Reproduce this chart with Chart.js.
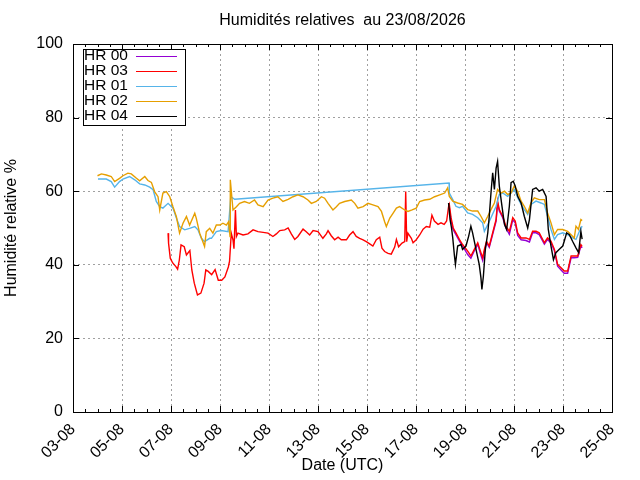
<!DOCTYPE html>
<html>
<head>
<meta charset="utf-8">
<script src="https://cdn.jsdelivr.net/npm/chart.js@4.4.1/dist/chart.umd.min.js"></script>
<style>
  html, body { margin: 0; padding: 0; background: #fff; }
</style>
</head>
<body>
<canvas id="hrChart" width="640" height="480"></canvas>
<script>
// x values are days since 03-08 00:00 UTC
var xTickLabels = ["03-08", "05-08", "07-08", "09-08", "11-08", "13-08",
                   "15-08", "17-08", "19-08", "21-08", "23-08", "25-08"];

// HR 00 (only recorded from 18-08)
var hr00Days = [15.36, 15.43, 15.52, 15.63, 15.77, 15.9, 16.01, 16.11, 16.24, 16.38, 16.52, 16.65,
  16.72, 16.79, 16.88, 16.99, 17.13, 17.27, 17.33, 17.4, 17.54, 17.67, 17.81, 17.95, 18.05, 18.15,
  18.29, 18.49, 18.63, 18.76, 18.9, 19.03, 19.24, 19.37, 19.51, 19.65, 19.78, 19.92, 20.05, 20.19,
  20.33, 20.46, 20.6, 20.73, 20.78];
var hr00Vals = [55.5, 52.0, 49.5, 48.2, 46.5, 45.0, 43.9, 42.8, 41.8, 43.8, 45.6, 42.6,
  41.2, 43.6, 46.0, 44.7, 48.3, 51.9, 56.8, 54.6, 52.8, 50.0, 48.3, 52.2, 51.4, 48.0,
  46.8, 46.6, 46.2, 48.7, 48.7, 48.2, 45.6, 46.9, 45.9, 43.8, 39.6, 38.6, 37.7, 37.7,
  41.9, 41.9, 42.0, 45.1, 44.6];

// HR 03
var hr03Days = [3.88, 3.9, 3.97, 4.07, 4.2, 4.27, 4.34, 4.41, 4.54, 4.63, 4.77, 4.85, 4.95, 5.08,
  5.22, 5.35, 5.42, 5.52, 5.66, 5.8, 5.93, 6.07, 6.2, 6.34, 6.39, 6.46, 6.53, 6.57, 6.63, 6.67,
  6.73, 6.94, 7.14, 7.35, 7.55, 7.76, 7.96, 8.16, 8.3, 8.44, 8.64, 8.78, 8.91, 9.05, 9.18, 9.39,
  9.52, 9.66, 9.8, 10.0, 10.2, 10.34, 10.41, 10.54, 10.68, 10.82, 10.95, 11.16, 11.29, 11.43,
  11.56, 11.7, 11.84, 11.97, 12.11, 12.24, 12.38, 12.52, 12.61, 12.72, 12.86, 12.99, 13.13,
  13.2, 13.29, 13.43, 13.54, 13.58, 13.62, 13.67, 13.81, 13.88, 14.01, 14.15, 14.29, 14.42,
  14.56, 14.65, 14.75, 14.9, 15.02, 15.15, 15.25, 15.33, 15.36, 15.43, 15.52, 15.63, 15.77,
  15.9, 16.01, 16.11, 16.24, 16.38, 16.52, 16.65, 16.72, 16.79, 16.88, 16.99, 17.13, 17.27,
  17.33, 17.4, 17.54, 17.67, 17.81, 17.95, 18.05, 18.15, 18.29, 18.49, 18.63, 18.76, 18.9,
  19.03, 19.24, 19.37, 19.51, 19.65, 19.78, 19.92, 20.05, 20.19, 20.33, 20.46, 20.6, 20.73, 20.78];
var hr03Vals = [48.6, 45.9, 41.8, 40.5, 39.5, 38.8, 41.3, 45.4, 44.9, 42.7, 43.9, 38.6, 35.0, 31.8,
  32.3, 35.0, 38.6, 38.2, 37.3, 38.7, 35.8, 35.8, 36.7, 39.4, 41.0, 48.6, 46.8, 44.4, 54.9, 47.7,
  48.6, 48.1, 48.4, 49.5, 49.0, 48.8, 48.6, 47.7, 48.4, 49.3, 49.5, 50.0, 48.4, 46.9, 47.7, 49.7,
  49.0, 48.1, 49.3, 49.0, 47.2, 48.4, 49.3, 47.9, 46.8, 47.5, 46.8, 46.8, 48.1, 49.0,
  47.7, 47.2, 46.8, 46.3, 45.7, 45.1, 46.8, 47.5, 44.5, 43.6, 43.1, 42.9, 44.8,
  46.9, 44.9, 45.9, 46.3, 59.9, 46.3, 48.6, 47.2, 46.0, 46.8, 48.1, 49.7, 50.4,
  50.2, 53.5, 51.9, 51.0, 51.4, 51.0, 51.9, 55.8, 56.4, 52.8, 50.0, 48.7, 46.9,
  45.5, 44.6, 43.7, 42.4, 44.2, 46.0, 43.3, 41.9, 44.2, 46.4, 45.1, 48.7, 52.3,
  57.3, 55.0, 53.2, 50.5, 49.1, 52.8, 51.9, 48.7, 47.3, 47.3, 46.9, 49.1, 49.1,
  48.7, 46.0, 47.3, 46.4, 44.2, 40.1, 39.2, 38.3, 38.3, 42.4, 42.4, 42.4, 45.5, 45.0];

// HR 01 (no data between 09-08 and 18-08)
var hr01Days = [1.02, 1.36, 1.56, 1.7, 1.9, 2.04, 2.31, 2.52, 2.72, 2.93, 3.13, 3.27, 3.4, 3.54,
  3.67, 3.88, 4.08, 4.22, 4.35, 4.56, 4.76, 4.97, 5.1, 5.24, 5.37, 5.58, 5.65, 5.85, 6.05, 6.33,
  6.44, 6.6, 15.35, 15.36, 15.5, 15.63, 15.77, 15.9, 16.11, 16.31, 16.52, 16.72, 16.79, 16.93,
  17.06, 17.27, 17.4, 17.54, 17.74, 17.88, 18.01, 18.15, 18.29, 18.42, 18.56, 18.69, 18.9, 19.1,
  19.24, 19.37, 19.51, 19.65, 19.78, 19.99, 20.19, 20.39, 20.53, 20.67, 20.78];
var hr01Vals = [63.3, 63.3, 62.6, 61.1, 62.6, 63.3, 64.0, 63.1, 62.0, 61.7, 61.1, 60.4, 57.2, 55.8,
  55.4, 56.7, 55.4, 52.7, 50.4, 49.5, 49.9, 50.4, 49.5, 47.2, 46.3, 47.2, 47.2, 49.0, 49.3, 49.0,
  58.5, 57.8, 62.2, 59.5, 57.7, 55.9, 55.5, 55.9, 54.1, 53.7, 52.8, 51.4, 49.1, 50.9,
  52.8, 55.9, 59.1, 59.5, 58.6, 59.5, 60.5, 58.2, 56.4, 55.0, 53.7, 56.4, 57.3, 56.8,
  56.4, 53.2, 49.6, 46.9, 48.2, 48.7, 48.2, 47.3, 46.9, 49.1, 50.5];

// HR 02
var hr02Days = [1.0, 1.16, 1.36, 1.56, 1.7, 1.9, 2.04, 2.24, 2.38, 2.59, 2.72, 2.93, 3.06, 3.2,
  3.33, 3.47, 3.54, 3.67, 3.81, 3.95, 4.08, 4.22, 4.35, 4.49, 4.63, 4.76, 4.97, 5.03, 5.17, 5.37,
  5.44, 5.58, 5.71, 5.85, 5.99, 6.12, 6.26, 6.35, 6.41, 6.42, 6.53, 6.67, 6.8, 7.0, 7.2, 7.41,
  7.55, 7.76, 7.96, 8.16, 8.36, 8.57, 8.78, 8.98, 9.18, 9.39, 9.59, 9.73, 9.93, 10.14, 10.27,
  10.41, 10.61, 10.75, 10.88, 11.09, 11.36, 11.5, 11.63, 11.84, 12.04, 12.24, 12.45, 12.59,
  12.72, 12.79, 12.93, 13.06, 13.2, 13.33, 13.54, 13.67, 13.84, 14.01, 14.15, 14.35, 14.56,
  14.76, 14.97, 15.17, 15.29, 15.36, 15.5, 15.7, 15.9, 16.11, 16.31, 16.52, 16.65, 16.79, 16.93,
  17.06, 17.2, 17.33, 17.47, 17.61, 17.74, 17.88, 18.01, 18.15, 18.29, 18.42, 18.56, 18.69,
  18.83, 19.03, 19.24, 19.37, 19.51, 19.65, 19.78, 19.99, 20.19, 20.33, 20.46, 20.53, 20.63,
  20.73, 20.78];
var hr02Vals = [64.2, 64.7, 64.4, 64.0, 62.6, 63.5, 64.2, 64.9, 64.7, 63.5, 62.8, 64.0, 62.9, 62.4,
  59.9, 58.5, 54.9, 59.5, 59.9, 58.5, 55.8, 53.1, 48.6, 51.3, 53.1, 50.8, 54.0, 52.7, 48.6, 45.0,
  49.0, 49.9, 48.6, 50.8, 50.8, 51.3, 50.8, 51.7, 47.7, 63.1, 54.9, 55.8, 56.7, 57.2, 56.7, 57.6,
  56.3, 55.8, 57.6, 58.1, 58.5, 57.2, 57.8, 58.5, 59.0, 58.5, 57.6, 56.7, 57.2, 58.5, 58.1,
  56.7, 54.9, 55.8, 56.7, 57.2, 57.6, 56.7, 55.4, 55.8, 56.7, 56.3, 55.8, 54.5,
  51.7, 50.4, 52.7, 54.0, 55.4, 55.8, 54.9, 54.5, 54.9, 55.4, 57.2, 57.6, 57.8,
  58.5, 59.0, 59.5, 60.9, 58.6, 57.3, 56.8, 56.4, 55.0, 54.6, 54.6, 53.2, 51.4, 53.2,
  55.0, 56.8, 60.5, 59.5, 60.0, 59.1, 59.5, 61.4, 60.0, 57.3, 55.9, 54.1, 56.8,
  58.2, 57.7, 57.7, 54.1, 51.4, 48.2, 49.6, 49.6, 49.1, 48.2, 47.3, 50.5, 49.6,
  52.3, 52.0];

// HR 04 (only recorded from 18-08)
var hr04Days = [15.33, 15.39, 15.45, 15.5, 15.57, 15.61, 15.7, 15.84, 15.9, 16.04, 16.15, 16.24,
  16.31, 16.45, 16.58, 16.65, 16.69, 16.75, 16.83, 16.93, 16.99, 17.06, 17.13, 17.2, 17.27,
  17.33, 17.4, 17.51, 17.61, 17.7, 17.81, 17.88, 17.97, 18.05, 18.15, 18.29, 18.42, 18.56,
  18.63, 18.76, 18.9, 19.03, 19.17, 19.31, 19.4, 19.51, 19.61, 19.71, 19.85, 19.99, 20.05,
  20.15, 20.26, 20.39, 20.53, 20.64, 20.73, 20.78];
var hr04Vals = [56.8, 52.3, 50.0, 47.3, 42.4, 40.1, 45.1, 45.5, 44.2, 45.1, 47.8, 50.5,
  48.7, 44.2, 40.1, 36.5, 33.3, 36.9, 44.2, 48.7, 53.2, 59.5, 65.0, 60.5, 66.3,
  68.1, 61.4, 55.9, 51.0, 49.6, 55.9, 62.3, 62.7, 61.4, 58.6, 56.8, 53.2, 50.0,
  52.3, 60.5, 60.9, 60.0, 60.5, 58.6, 49.6, 45.1, 41.4, 43.3, 44.2, 45.1, 46.4,
  48.7, 48.2, 46.4, 44.6, 43.3, 49.1, 47.0];

var FONT = '"Liberation Sans", Arial, sans-serif';

function toPoints(days, vals) {
  return days.map(function (d, i) { return { x: d, y: vals[i] }; });
}

function makeSeries(label, days, vals, color, order) {
  return {
    label: label,
    data: toPoints(days, vals),
    borderColor: color,
    backgroundColor: color,
    borderWidth: 1.4,
    pointRadius: 0,
    tension: 0,
    fill: false,
    order: order // lower order is drawn on top (HR 04 last, as in the original)
  };
}

// Title centred over the plot area
var plotTitle = {
  id: "plotTitle",
  afterDraw: function (chart) {
    var ctx = chart.ctx, a = chart.chartArea;
    ctx.save();
    ctx.font = "16px " + FONT;
    ctx.fillStyle = "#000";
    ctx.textAlign = "center";
    ctx.textBaseline = "middle";
    ctx.fillText("Humidités relatives  au 23/08/2026", (a.left + a.right) / 2, 21);
    ctx.restore();
  }
};

// Box border with inward tick marks on all four sides
var frameTicks = {
  id: "frameTicks",
  afterDatasetsDraw: function (chart) {
    var ctx = chart.ctx, a = chart.chartArea;
    var xs = chart.scales.x, ys = chart.scales.y;
    ctx.save();
    ctx.strokeStyle = "#000";
    ctx.lineWidth = 1;
    ctx.beginPath();
    xs.ticks.forEach(function (t) {
      var px = Math.round(xs.getPixelForValue(t.value)) + 0.5;
      var len = t.value % 2 === 0 ? 6 : 3;
      ctx.moveTo(px, a.bottom); ctx.lineTo(px, a.bottom - len);
      ctx.moveTo(px, a.top); ctx.lineTo(px, a.top + len);
    });
    ys.ticks.forEach(function (t) {
      var py = Math.round(ys.getPixelForValue(t.value)) + 0.5;
      ctx.moveTo(a.left, py); ctx.lineTo(a.left + 6, py);
      ctx.moveTo(a.right, py); ctx.lineTo(a.right - 6, py);
    });
    ctx.stroke();
    ctx.strokeRect(Math.round(a.left) + 0.5, Math.round(a.top) + 0.5,
                   Math.round(a.width), Math.round(a.height));
    ctx.restore();
  }
};

// gnuplot style key: text first, then the line sample, in a white box
var keyBox = {
  id: "keyBox",
  afterDraw: function (chart) {
    var ctx = chart.ctx, a = chart.chartArea;
    var left = Math.round(a.left) + 10, top = Math.round(a.top) + 5;
    var w = 102, rowH = 15;
    var h = rowH * chart.data.datasets.length + 1;
    ctx.save();
    ctx.fillStyle = "#fff";
    ctx.fillRect(left, top, w, h);
    ctx.strokeStyle = "#000";
    ctx.lineWidth = 1;
    ctx.strokeRect(left + 0.5, top + 0.5, w, h);
    ctx.font = "15.5px " + FONT;
    ctx.textBaseline = "middle";
    chart.data.datasets.forEach(function (ds, i) {
      var cy = top + 7 + i * rowH;
      ctx.fillStyle = "#000";
      ctx.fillText(ds.label, left + 1, cy);
      ctx.strokeStyle = ds.borderColor;
      ctx.beginPath();
      ctx.moveTo(left + 53, cy + 0.5);
      ctx.lineTo(left + 94, cy + 0.5);
      ctx.stroke();
    });
    ctx.restore();
  }
};

var ctx = document.getElementById("hrChart").getContext("2d");
var hrChart = new Chart(ctx, {
  type: "line",
  data: {
    datasets: [
      makeSeries("HR 00", hr00Days, hr00Vals, "#9400d3", 4),
      makeSeries("HR 03", hr03Days, hr03Vals, "#ff0000", 3),
      makeSeries("HR 01", hr01Days, hr01Vals, "#56b4e9", 2),
      makeSeries("HR 02", hr02Days, hr02Vals, "#e69f00", 1),
      makeSeries("HR 04", hr04Days, hr04Vals, "#000000", 0)
    ]
  },
  options: {
    responsive: false,
    animation: false,
    layout: { padding: { top: 44, right: 28, left: 0, bottom: 0 } },
    plugins: {
      legend: { display: false },
      title: { display: false },
      tooltip: { enabled: false }
    },
    scales: {
      x: {
        type: "linear",
        min: 0,
        max: 22,
        afterFit: function (scale) { scale.height = 68; },
        border: { display: false, dash: [2, 3] },
        grid: {
          drawTicks: false,
          lineWidth: 1,
          color: function (c) {
            return c.tick && c.tick.value % 2 === 0 ? "#a0a0a0" : "rgba(0,0,0,0)";
          }
        },
        ticks: {
          stepSize: 0.5,
          maxTicksLimit: 100,
          autoSkip: false,
          minRotation: 45,
          maxRotation: 45,
          padding: 8,
          color: "#000",
          font: { family: FONT, size: 16 },
          callback: function (value) {
            return value % 2 === 0 ? xTickLabels[value / 2] : "";
          }
        },
        title: {
          display: true,
          text: "Date (UTC)",
          color: "#000",
          font: { family: FONT, size: 16 },
          padding: { top: 0, bottom: 5 }
        }
      },
      y: {
        min: 0,
        max: 100,
        afterFit: function (scale) { scale.width = 73; },
        border: { display: false, dash: [2, 3] },
        grid: { drawTicks: false, color: "#a0a0a0", lineWidth: 1 },
        ticks: {
          stepSize: 20,
          padding: 10,
          color: "#000",
          font: { family: FONT, size: 16 }
        },
        title: {
          display: true,
          text: "Humidité relative %",
          color: "#000",
          font: { family: FONT, size: 16 },
          padding: { top: 2, bottom: 0 }
        }
      }
    }
  },
  plugins: [plotTitle, frameTicks, keyBox]
});
</script>
</body>
</html>
